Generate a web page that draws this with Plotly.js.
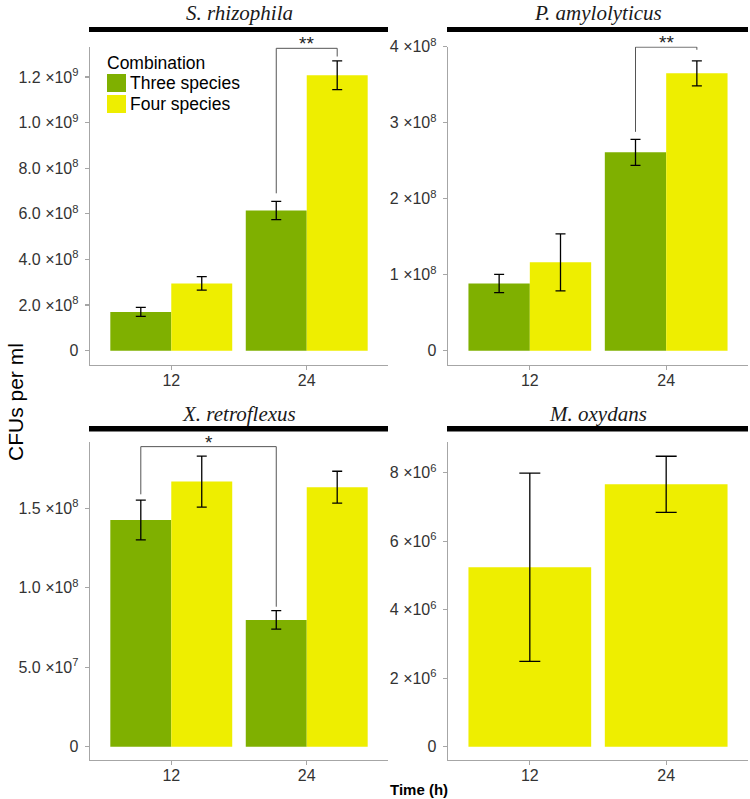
<!DOCTYPE html>
<html><head><meta charset="utf-8">
<script src="https://cdn.plot.ly/plotly-3.0.1.min.js"></script>
<style>body{margin:0;background:#fff}</style>
</head><body><div id="chart" style="width:750px;height:799px"></div>
<script>
// ---- data ----
const times = ['12', '24'];
const xIndex = [0, 1];
const panelTitles = ['S. rhizophila', 'P. amylolyticus', 'X. retroflexus', 'M. oxydans'];
const seriesNames = ['Three species', 'Four species'];
const legendTitle = 'Combination';

const srThree = [1.70e8, 6.15e8];
const srThreeErr = [2.0e7, 4.0e7];
const srFour = [2.95e8, 1.208e9];
const srFourErr = [3.0e7, 6.3e7];

const paThree = [0.885e8, 2.61e8];
const paThreeErr = [1.2e7, 1.7e7];
const paFour = [1.163e8, 3.65e8];
const paFourErr = [3.75e7, 1.65e7];

const xrThree = [1.425e8, 7.97e7];
const xrThreeErr = [1.25e7, 5.8e6];
const xrFour = [1.667e8, 1.632e8];
const xrFourErr = [1.6e7, 1.0e7];

const moFour = [5.24e6, 7.66e6];
const moFourErr = [2.75e6, 0.82e6];

const srTickVals = [0, 2e8, 4e8, 6e8, 8e8, 1e9, 1.2e9];
const srTickText = ['0', '2.0 ×10<sup>8</sup>', '4.0 ×10<sup>8</sup>', '6.0 ×10<sup>8</sup>', '8.0 ×10<sup>8</sup>', '1.0 ×10<sup>9</sup>', '1.2 ×10<sup>9</sup>'];
const paTickVals = [0, 1e8, 2e8, 3e8, 4e8];
const paTickText = ['0', '1 ×10<sup>8</sup>', '2 ×10<sup>8</sup>', '3 ×10<sup>8</sup>', '4 ×10<sup>8</sup>'];
const xrTickVals = [0, 5e7, 1e8, 1.5e8];
const xrTickText = ['0', '5.0 ×10<sup>7</sup>', '1.0 ×10<sup>8</sup>', '1.5 ×10<sup>8</sup>'];
const moTickVals = [0, 2e6, 4e6, 6e6, 8e6];
const moTickText = ['0', '2 ×10<sup>6</sup>', '4 ×10<sup>6</sup>', '6 ×10<sup>6</sup>', '8 ×10<sup>6</sup>'];

// significance brackets
const sigAxis = ['', '2', '3'];
const sigLeftCat = [1, 1, 0];
const sigLeftSeries = [0, 0, 0];
const sigLeftY = [6.9e8, 2.88e8, 1.587e8];
const sigRightCat = [1, 1, 1];
const sigRightSeries = [1, 1, 0];
const sigRightY = [1.29e9, 3.96e8, 0.88e8];
const sigTopY = [1.326e9, 3.995e8, 1.887e8];
const sigLabels = ['**', '**', '*'];

// ---- styles ----
const GREEN = '#7fb000';
const YELLOW = '#eeee00';
const COLORS = [GREEN, YELLOW];
const AXIS = '#a6a6a6';
const TICKTXT = '#333333';
const FONT = 'Liberation Sans, Arial';
const dodge = 0.225;

function errY(arr, w) {
  return {type: 'data', array: arr, visible: true, color: '#000', thickness: 1.3, width: w};
}
function bar(name, y, err, ax, color, w) {
  return {
    type: 'bar', name: name, x: xIndex, y: y, xaxis: 'x' + ax, yaxis: 'y' + ax,
    marker: {color: color, line: {width: 0}}, error_y: errY(err, w),
    showlegend: false, hoverinfo: 'skip'
  };
}

const data = [
  bar(seriesNames[0], srThree, srThreeErr, '', GREEN, 5),
  bar(seriesNames[1], srFour, srFourErr, '', YELLOW, 5),
  bar(seriesNames[0], paThree, paThreeErr, '2', GREEN, 5),
  bar(seriesNames[1], paFour, paFourErr, '2', YELLOW, 5),
  bar(seriesNames[0], xrThree, xrThreeErr, '3', GREEN, 5),
  bar(seriesNames[1], xrFour, xrFourErr, '3', YELLOW, 5),
  bar(seriesNames[1], moFour, moFourErr, '4', YELLOW, 10.5)
];

const W = 750, H = 799;
const colX = [[90 / W, 388 / W], [448 / W, 748 / W]];
const rowY = [[1 - 365 / H, 1 - 46.5 / H], [1 - 760 / H, 1 - 441.7 / H]];

function xax(col, anchor) {
  return {
    domain: colX[col], anchor: anchor, range: [-0.6, 1.6],
    tickvals: xIndex, ticktext: times, showline: true, linecolor: AXIS, linewidth: 1.3,
    ticks: 'outside', ticklen: 4, tickcolor: AXIS, tickwidth: 1.3, ticklabelstandoff: -4,
    tickfont: {family: FONT, size: 16, color: TICKTXT},
    showgrid: false, zeroline: false, fixedrange: true
  };
}
function yax(row, anchor, range, tv, tt) {
  return {
    domain: rowY[row], anchor: anchor, range: range,
    tickvals: tv, ticktext: tt, showline: true, linecolor: AXIS, linewidth: 1.3,
    ticks: 'outside', ticklen: 4, tickcolor: AXIS, tickwidth: 1.3, ticklabelstandoff: 3,
    tickfont: {family: FONT, size: 16, color: TICKTXT},
    showgrid: false, zeroline: false, fixedrange: true
  };
}

const shapes = [];
const annotations = [];
const stripTop = [[27 / H, 32 / H], [426 / H, 431.5 / H]];
const stripTitleY = [13, 414];
for (let p = 0; p < 4; p++) {
  const col = p % 2, row = Math.floor(p / 2);
  shapes.push({type: 'rect', xref: 'paper', yref: 'paper',
    x0: colX[col][0] - 1 / W, x1: colX[col][1],
    y0: 1 - stripTop[row][1], y1: 1 - stripTop[row][0],
    fillcolor: '#000', line: {width: 0}});
  annotations.push({xref: 'paper', yref: 'paper', x: (colX[col][0] + colX[col][1]) / 2,
    y: 1 - stripTitleY[row] / H, text: '<i>' + panelTitles[p] + '</i>', showarrow: false,
    xanchor: 'center', yanchor: 'middle',
    font: {family: 'Liberation Serif, Times New Roman', size: 21, color: '#1a1a1a'}});
}

for (let i = 0; i < sigAxis.length; i++) {
  const xr = 'x' + sigAxis[i], yr = 'y' + sigAxis[i];
  const xl = sigLeftCat[i] + (sigLeftSeries[i] === 1 ? dodge : -dodge);
  const xrr = sigRightCat[i] + (sigRightSeries[i] === 1 ? dodge : -dodge);
  const line = {color: '#555', width: 1};
  shapes.push({type: 'line', xref: xr, yref: yr, x0: xl, x1: xl, y0: sigLeftY[i], y1: sigTopY[i], line: line});
  shapes.push({type: 'line', xref: xr, yref: yr, x0: xl, x1: xrr, y0: sigTopY[i], y1: sigTopY[i], line: line});
  shapes.push({type: 'line', xref: xr, yref: yr, x0: xrr, x1: xrr, y0: sigTopY[i], y1: sigRightY[i], line: line});
  annotations.push({xref: xr, yref: yr, x: (xl + xrr) / 2, y: sigTopY[i], text: sigLabels[i],
    showarrow: false, xanchor: 'center', yanchor: 'bottom', yshift: -8,
    font: {family: FONT, size: 19, color: '#222'}});
}

// legend drawn inside the first panel
const legX = 107 / W;
annotations.push({xref: 'paper', yref: 'paper', x: legX - 2 / W, y: 1 - 63 / H, text: legendTitle,
  showarrow: false, xanchor: 'left', yanchor: 'middle', font: {family: FONT, size: 17.5, color: '#000'}});
const legRowY = [83, 104];
for (let k = 0; k < 2; k++) {
  shapes.push({type: 'rect', xref: 'paper', yref: 'paper', x0: legX, x1: 126 / W,
    y0: 1 - (legRowY[k] + 9) / H, y1: 1 - (legRowY[k] - 9) / H, fillcolor: COLORS[k], line: {width: 0}});
  annotations.push({xref: 'paper', yref: 'paper', x: 128 / W, y: 1 - legRowY[k] / H, text: seriesNames[k],
    showarrow: false, xanchor: 'left', yanchor: 'middle', font: {family: FONT, size: 17.5, color: '#000'}});
}

annotations.push({xref: 'paper', yref: 'paper', x: 15 / W, y: 1 - 402 / H, text: 'CFUs per ml',
  textangle: -90, showarrow: false, xanchor: 'center', yanchor: 'middle',
  font: {family: FONT, size: 21, color: '#000'}});
annotations.push({xref: 'paper', yref: 'paper', x: 419 / W, y: 1 - 789 / H, text: '<b>Time (h)</b>',
  showarrow: false, xanchor: 'center', yanchor: 'middle',
  font: {family: FONT, size: 15, color: '#000'}});

const layout = {
  width: W, height: H,
  margin: {l: 0, r: 0, t: 0, b: 0},
  paper_bgcolor: '#fff', plot_bgcolor: '#fff',
  barmode: 'group', bargap: 0.1, bargroupgap: 0,
  xaxis: xax(0, 'y'), yaxis: yax(0, 'x', [-6.3e7, 1.334e9], srTickVals, srTickText),
  xaxis2: xax(1, 'y2'), yaxis2: yax(0, 'x2', [-1.88e7, 4.003e8], paTickVals, paTickText),
  xaxis3: xax(0, 'y3'), yaxis3: yax(1, 'x3', [-8.4e6, 1.918e8], xrTickVals, xrTickText),
  xaxis4: xax(1, 'y4'), yaxis4: yax(1, 'x4', [-3.9e5, 8.905e6], moTickVals, moTickText),
  showlegend: false,
  shapes: shapes, annotations: annotations
};

Plotly.newPlot('chart', data, layout, {displayModeBar: false, staticPlot: true});
</script></body></html>
